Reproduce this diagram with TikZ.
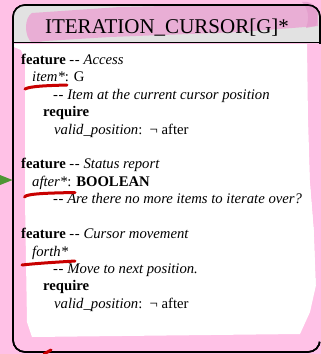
\documentclass[tikz,border=0pt]{standalone}
\usepackage{fontspec}
\setmainfont{Liberation Serif}
\definecolor{bgpink}{RGB}{255,193,230}
\definecolor{hdpink}{RGB}{233,174,213}
\definecolor{hdpinkdark}{RGB}{226,150,200}
\definecolor{hdgray}{RGB}{226,226,226}
\definecolor{redmark}{RGB}{200,0,0}
\definecolor{arrowgreen}{RGB}{78,150,52}
\newcommand\dd{-\kern0.6pt-}
\begin{document}
\begin{tikzpicture}[x=1pt,y=-1pt,
  txt/.style={anchor=base west, inner sep=0pt, font=\fontsize{14.7}{17}\selectfont},
  titletxt/.style={anchor=base, inner sep=0pt, font=\fontsize{21}{24}\selectfont},
  redline/.style={draw=redmark, line width=3pt, line cap=round},
  boxline/.style={line width=1.6pt}]
\useasboundingbox (0,0) rectangle (321,354);
\fill[bgpink] (0,0) rectangle (321,354);
% box
\node[draw, boxline, rounded corners=12pt, fill=bgpink, minimum width=307pt, minimum height=347pt, anchor=north west, inner sep=0pt, outer sep=0pt] (box) at (13,5) {};
% header
\begin{scope}
\clip[rounded corners=12pt] (13,5) rectangle (320,352);
\fill[hdgray] (13,5) rectangle (320,42.5);
\fill[hdpink] (32,43) .. controls (24,36) and (24,18) .. (32,13) -- (120,7) -- (300,3) -- (318,8) -- (318,26) -- (240,32) -- (110,37) -- (45,41) -- cycle;
\end{scope}
\fill[hdpinkdark, opacity=0.6] (302,2) .. controls (316,0) and (320,12) .. (316,26) -- (306,28) .. controls (310,18) and (308,8) .. (302,2) -- cycle;
% white interior
\fill[white] (14,44) -- (307,44) -- (308,120) -- (310,180) -- (314,230) -- (316,285) -- (310,312) -- (300,334) -- (32,337) -- (27,322) -- (25,200) -- (25,60) -- (21,50) -- (14,47) -- cycle;
% borders
\draw[boxline, rounded corners=12pt] (13,5) rectangle (320,352);
\draw[line width=1.4pt] (13,42.5) -- (320,42.5);
% pink paint over right border
\fill[bgpink] (308,44) -- (321,44) -- (321,342) -- (316,340) -- (316,285) -- (314,230) -- (310,180) -- (309,120) -- cycle;
% title
\node[titletxt] (title) at (167,33) {ITERATION\_CURSOR[G]*};
% body text
\node[txt] (f1) at (21,64) {\textbf{feature} \dd{} \textit{Access}};
\node[txt] (n1) at (32,81.5) {\textit{item*}: G};
\node[txt] (c1) at (53,99) {\dd{} \textit{Item at the current cursor position}};
\node[txt] (r1) at (43,116.5) {\textbf{require}};
\node[txt] (v1) at (54,134) {\textit{valid\_position}:\ \ ¬ after};
\node[txt] (f2) at (21,168.7) {\textbf{feature} \dd{} \textit{Status report}};
\node[txt] (n2) at (32,186.2) {\textit{after*}: \textbf{BOOLEAN}};
\node[txt] (c2) at (53,203.6) {\dd{} \textit{Are there no more items to iterate over?}};
\node[txt] (f3) at (21,238.5) {\textbf{feature} \dd{} \textit{Cursor movement}};
\node[txt] (n3) at (32,256) {\textit{forth*}};
\node[txt] (c3) at (53,273.4) {\dd{} \textit{Move to next position.}};
\node[txt] (r3) at (43,290.9) {\textbf{require}};
\node[txt] (v3) at (54,308.3) {\textit{valid\_position}:\ \ ¬ after};
% red underlines
\draw[redline] (25,89) .. controls (30,86) and (50,85.5) .. (67,85);
\draw[redline] (24.5,197) .. controls (26,193.5) and (50,193) .. (75,192.5);
\draw[redline] (22,265) .. controls (40,263) and (60,262) .. (75,261);
\draw[redline] (44,354) -- (51,350);
% green arrow tip
\coordinate (gtip) at (12.5,180);
\fill[arrowgreen] (0,175) -- (gtip) -- (0,185) -- cycle;
\end{tikzpicture}
\end{document}
